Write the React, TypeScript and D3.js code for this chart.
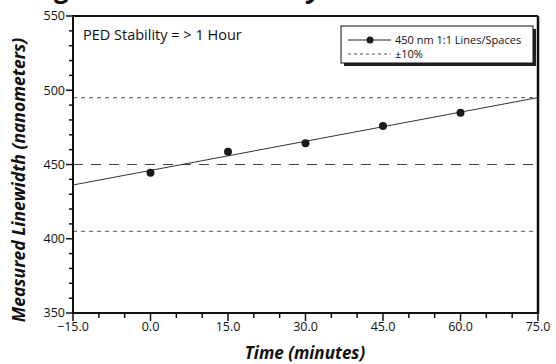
import React from "react";
import * as d3 from "d3";

const times = [0, 15, 30, 45, 60];
const linewidths = [444.5, 458.6, 464.3, 475.9, 484.9];
const target = 450;
const tolerance = 0.1;
const xTicks = [-15, 0, 15, 30, 45, 60, 75];
const yTicks = [350, 400, 450, 500, 550];
const seriesLabel = "450 nm 1:1 Lines/Spaces";
const tolLabel = "±10%";
const note = "PED Stability = > 1 Hour";

const W = 556;
const H = 364;
const FONT = "'Open Sans', 'DejaVu Sans', sans-serif";

export default function App() {
  const x = d3.scaleLinear().domain([-15, 75]).range([73, 538]);
  const y = d3.scaleLinear().domain([350, 550]).range([313, 16]);

  // least squares fit
  const mx = d3.mean(times) as number;
  const my = d3.mean(linewidths) as number;
  let sxy = 0, sxx = 0;
  times.forEach((t, i) => {
    sxy += (t - mx) * (linewidths[i] - my);
    sxx += (t - mx) * (t - mx);
  });
  const slope = sxy / sxx;
  const icpt = my - slope * mx;
  const fit = (t: number) => icpt + slope * t;
  const [x0, x1] = x.domain();
  const line = d3.line<number>().x((t) => x(t)).y((t) => y(fit(t)));

  const xMinor = d3.range(-15, 75.01, 5);
  const yMinor = d3.range(350, 550.01, 10);

  const hi = target * (1 + tolerance);
  const lo = target * (1 - tolerance);

  return (
    <svg width={W} height={H} style={{ position: "absolute", left: 0, top: 0, background: "#fff" }}>
      <rect width={W} height={H} fill="#fff" />
      {/* cropped title (only descenders visible) */}
      <text x={322} y={-2} textAnchor="end" fontFamily={FONT} fontWeight={700} fontStyle="italic" fontSize={27.5} fill="#111">
        Measuring Linewidth Stability
      </text>

      {/* reference lines */}
      <line x1={x(x0)} x2={x(x1)} y1={y(hi)} y2={y(hi)} stroke="#555" strokeWidth={1} strokeDasharray="4,4" />
      <line x1={x(x0)} x2={x(x1)} y1={y(target)} y2={y(target)} stroke="#444" strokeWidth={1} strokeDasharray="10,8" />
      <line x1={x(x0)} x2={x(x1)} y1={y(lo)} y2={y(lo)} stroke="#555" strokeWidth={1} strokeDasharray="4,4" />

      {/* fit line */}
      <path d={line([x0, x1]) || ""} fill="none" stroke="#333" strokeWidth={1} />

      {/* points */}
      {times.map((t, i) => (
        <circle key={i} cx={x(t)} cy={y(linewidths[i])} r={4} fill="#1a1a1a" />
      ))}

      {/* frame */}
      <line x1={x(x0)} x2={x(x1)} y1={y(550)} y2={y(550)} stroke="#111" strokeWidth={2} />
      <line x1={x(x1)} x2={x(x1)} y1={y(550)} y2={y(350)} stroke="#111" strokeWidth={2.5} />
      <line x1={x(x0)} x2={x(x0)} y1={y(550) - 1} y2={y(350) + 1} stroke="#111" strokeWidth={2} />
      <line x1={x(x0) - 1} x2={x(x1) + 1} y1={y(350)} y2={y(350)} stroke="#111" strokeWidth={2} />

      {/* x ticks */}
      {xMinor.map((t) => {
        const major = xTicks.includes(Math.round(t));
        return (
          <line key={"xt" + t} x1={x(t)} x2={x(t)} y1={y(350)} y2={y(350) + (major ? 8 : 5)} stroke="#111" strokeWidth={1.5} />
        );
      })}
      {xTicks.map((t) => (
        <text key={"xl" + t} x={x(t)} y={331} textAnchor="middle" fontFamily={FONT} fontSize={12.5} fill="#111">
          {d3.format(".1f")(t)}
        </text>
      ))}

      {/* y ticks */}
      {yMinor.map((v) => {
        const major = yTicks.includes(Math.round(v));
        return (
          <line key={"yt" + v} x1={x(x0)} x2={x(x0) - (major ? 7 : 4)} y1={y(v)} y2={y(v)} stroke="#111" strokeWidth={1.5} />
        );
      })}
      {yTicks.map((v) => (
        <text key={"yl" + v} x={65} y={y(v)} dy="0.35em" textAnchor="end" fontFamily={FONT} fontSize={12.5} fill="#111">
          {v}
        </text>
      ))}

      {/* axis titles */}
      <text x={305} y={359} textAnchor="middle" fontFamily={FONT} fontWeight={700} fontStyle="italic" fontSize={17} fill="#111">
        Time (minutes)
      </text>
      <text transform={`translate(25,${180}) rotate(-90)`} textAnchor="middle" fontFamily={FONT} fontWeight={700} fontStyle="italic" fontSize={17.5} fill="#111">
        Measured Linewidth (nanometers)
      </text>

      {/* note */}
      <text x={83} y={40} fontFamily={FONT} fontSize={14.5} fill="#111">
        {note}
      </text>

      {/* legend */}
      <rect x={344} y={29} width={192} height={37} fill="#222" />
      <rect x={341} y={26} width={192} height={37} fill="#fff" stroke="#111" strokeWidth={1} />
      <line x1={348} x2={391} y1={40} y2={40} stroke="#222" strokeWidth={1} />
      <circle cx={370} cy={40} r={3.5} fill="#1a1a1a" />
      <text x={395} y={40} dy="0.35em" fontFamily={FONT} fontSize={11} fill="#111">
        {seriesLabel}
      </text>
      <line x1={348} x2={391} y1={54} y2={54} stroke="#555" strokeWidth={1} strokeDasharray="3,3" />
      <text x={395} y={54} dy="0.35em" fontFamily={FONT} fontSize={11} fill="#111">
        {tolLabel}
      </text>
    </svg>
  );
}
